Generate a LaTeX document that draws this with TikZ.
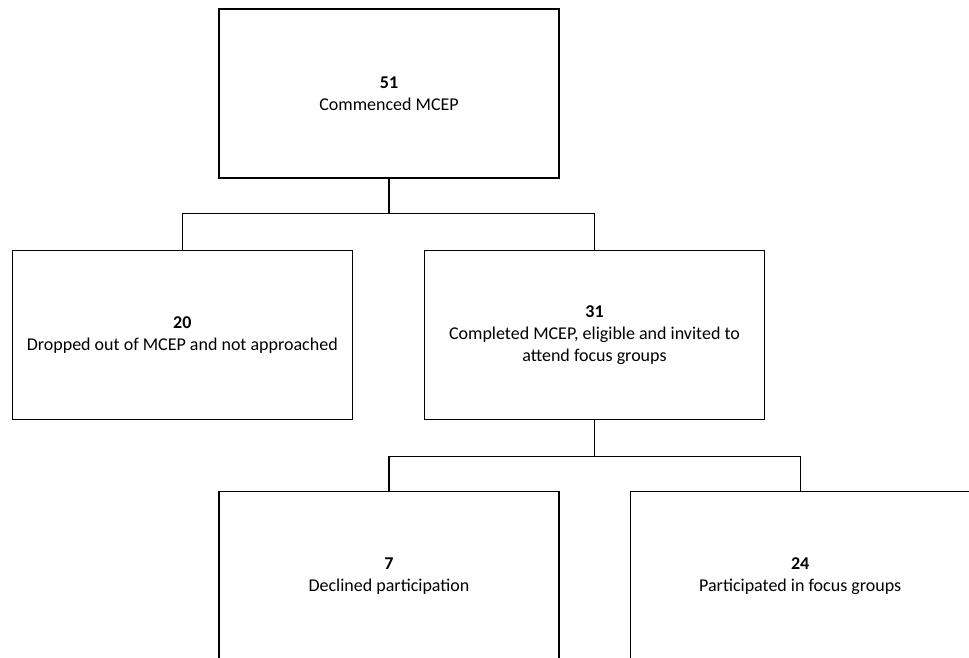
\documentclass[tikz,border=0pt]{standalone}
\usepackage{fontspec}
\setmainfont{Carlito}
\usepackage{tikz}
\usetikzlibrary{positioning, calc}

\begin{document}
\begin{tikzpicture}[
            x=1pt, y=1pt,
            node distance=71pt,
            % Define Flow Box Styles
            box/.style={
                rectangle,
                draw=black,
                line width=1.2pt,
                fill=white,
                minimum width=340pt,
                minimum height=169pt,
                align=center,
                inner sep=4pt,
                font=\fontsize{18}{22}\selectfont
            },
            line/.style={
                draw,
                line width=1.2pt,
                color=black
            }
        ]

        \useasboundingbox (0,0) rectangle (969,-657);

        % --- Nodes ---
        \node [box] (commenced) at (389,-93.5) {\textbf{51}\\Commenced MCEP};
        \node [box, below=of commenced, xshift=205.5pt] (completed)
            {\textbf{31}\\Completed MCEP, eligible and invited to\\attend focus groups};
        \node [box, left=of completed] (dropped) {\textbf{20}\\Dropped out of MCEP and not approached};
        \node [box, below=of completed, xshift=-205.5pt] (declined) {\textbf{7}\\Declined participation};
        \node [box, right=70pt of declined] (participated) {\textbf{24}\\Participated in focus groups};

        % --- Edges ---
        \coordinate (splitTop) at ($(commenced.south)+(0,-35)$);
        \coordinate (splitMid) at ($(completed.south)+(0,-37)$);
        \path [line] (commenced.south) -- (splitTop);
        \path [line] (dropped.north) |- (splitTop) -| (completed.north);
        \path [line] (completed.south) -- (splitMid);
        \path [line] (declined.north) |- (splitMid) -| (participated.north);

\end{tikzpicture}
\end{document}
